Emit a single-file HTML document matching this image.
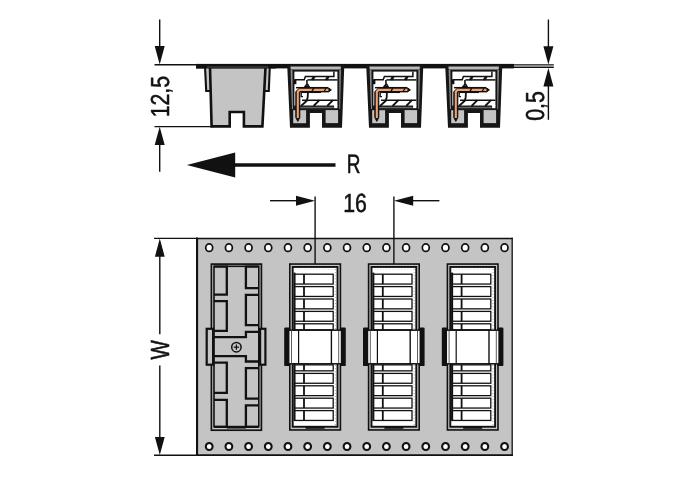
<!DOCTYPE html>
<html lang="en">
<head>
<meta charset="utf-8">
<title>Drawing</title>
<style>
html,body{margin:0;padding:0;background:#fff;}
body{width:697px;height:496px;overflow:hidden;}
svg{display:block;will-change:transform;}
text{text-rendering:geometricPrecision;filter:grayscale(1);}
</style>
</head>
<body>
<svg width="697" height="496" viewBox="0 0 697 496">
<rect x="0" y="0" width="697" height="496" fill="#fff"/>
<line x1="159.7" y1="19.5" x2="159.7" y2="50" stroke="#111" stroke-width="1.4" />
<polygon points="159.70,64.60 154.70,46.00 164.70,46.00" fill="#111" stroke="none" stroke-width="1" />
<line x1="154.5" y1="64.8" x2="200" y2="64.8" stroke="#111" stroke-width="1.4" />
<line x1="154.5" y1="126.6" x2="214" y2="126.6" stroke="#111" stroke-width="1.4" />
<polygon points="159.70,126.80 154.70,145.00 164.70,145.00" fill="#111" stroke="none" stroke-width="1" />
<line x1="159.7" y1="140" x2="159.7" y2="171.8" stroke="#111" stroke-width="1.4" />
<text transform="translate(168.6,96.6) rotate(-90) scale(0.82,1)" font-family="'Liberation Sans', sans-serif" font-size="26" text-anchor="middle" fill="#111" stroke="#111" stroke-width="0.55">12,5</text>
<line x1="548.4" y1="19.5" x2="548.4" y2="50" stroke="#111" stroke-width="1.4" />
<polygon points="548.40,64.40 543.40,46.20 553.40,46.20" fill="#111" stroke="none" stroke-width="1" />
<line x1="510" y1="64.8" x2="553.8" y2="64.8" stroke="#111" stroke-width="1.2" />
<line x1="510" y1="67.5" x2="553.8" y2="67.5" stroke="#111" stroke-width="1.2" />
<line x1="513" y1="66.15" x2="553.8" y2="66.15" stroke="#8f8f8f" stroke-width="1.5" />
<polygon points="548.40,68.00 543.40,86.60 553.40,86.60" fill="#111" stroke="none" stroke-width="1" />
<line x1="548.4" y1="80" x2="548.4" y2="119.8" stroke="#111" stroke-width="1.4" />
<text transform="translate(544.1,106.0) rotate(-90) scale(0.82,1)" font-family="'Liberation Sans', sans-serif" font-size="26" text-anchor="middle" fill="#111" stroke="#111" stroke-width="0.55">0,5</text>
<polygon points="186.80,165.00 235.20,152.40 235.20,177.60" fill="#111" stroke="none" stroke-width="1" />
<line x1="233" y1="165" x2="335.5" y2="165" stroke="#111" stroke-width="3.4" />
<text transform="translate(353.5,173.1) rotate(0) scale(0.72,1)" font-family="'Liberation Sans', sans-serif" font-size="26.4" text-anchor="middle" fill="#111" stroke="#111" stroke-width="0.55">R</text>
<line x1="270" y1="200.7" x2="300" y2="200.7" stroke="#111" stroke-width="1.4" />
<polygon points="315.00,200.70 296.00,195.70 296.00,205.70" fill="#111" stroke="none" stroke-width="1" />
<line x1="315.1" y1="196.4" x2="315.1" y2="264" stroke="#111" stroke-width="1.4" />
<line x1="393.9" y1="196.4" x2="393.9" y2="264" stroke="#111" stroke-width="1.4" />
<polygon points="394.00,200.70 413.20,195.70 413.20,205.70" fill="#111" stroke="none" stroke-width="1" />
<line x1="410" y1="200.7" x2="439.4" y2="200.7" stroke="#111" stroke-width="1.4" />
<text transform="translate(355.0,212.3) rotate(0) scale(0.81,1)" font-family="'Liberation Sans', sans-serif" font-size="26.3" text-anchor="middle" fill="#111" stroke="#111" stroke-width="0.55">16</text>
<line x1="154" y1="238.4" x2="198" y2="238.4" stroke="#111" stroke-width="1.4" />
<line x1="154" y1="455.2" x2="198" y2="455.2" stroke="#111" stroke-width="1.4" />
<polygon points="159.80,238.40 154.90,256.80 164.70,256.80" fill="#111" stroke="none" stroke-width="1" />
<polygon points="159.80,455.00 154.90,437.10 164.70,437.10" fill="#111" stroke="none" stroke-width="1" />
<line x1="159.8" y1="250" x2="159.8" y2="334.2" stroke="#111" stroke-width="1.4" />
<line x1="159.8" y1="365.6" x2="159.8" y2="440" stroke="#111" stroke-width="1.4" />
<text transform="translate(169,349.9) rotate(-90) scale(0.78,1)" font-family="'Liberation Sans', sans-serif" font-size="26.2" text-anchor="middle" fill="#111" stroke="#111" stroke-width="0.55">W</text>
<rect x="196.00" y="63.90" width="317.90" height="4.50" fill="#111" stroke="none" stroke-width="1" />
<polygon points="205.00,66.50 269.80,66.50 268.80,91.00 206.20,91.00" fill="#c4c4c4" stroke="#111" stroke-width="2.1" />
<polygon points="210.00,67.00 265.50,67.00 262.40,126.40 243.90,126.40 243.90,112.00 229.70,112.00 229.70,126.40 211.60,126.40" fill="#c4c4c4" stroke="#111" stroke-width="2.6" stroke-linejoin="miter"/>
<rect x="196.00" y="64.00" width="80.00" height="4.50" fill="#111" stroke="none" stroke-width="1" />
<line x1="207" y1="67.0" x2="268" y2="67.0" stroke="#8a8a8a" stroke-width="0.5" />
<g transform="translate(0.0,0)">
<polygon points="287.20,65.00 344.30,65.00 342.00,127.70 322.00,127.70 322.00,112.90 309.90,112.90 309.90,127.70 290.00,127.70" fill="#161616" stroke="none" stroke-width="1" stroke="#161616" stroke-width="0.6" stroke-linejoin="round"/>
<polygon points="290.50,66.40 340.90,66.40 340.70,69.60 290.70,69.60" fill="#b9b9b9" stroke="none" stroke-width="1" />
<polygon points="290.60,70.00 292.40,70.00 293.00,109.00 292.00,109.00" fill="#8c8c8c" stroke="none" stroke-width="1" />
<polygon points="339.30,70.00 341.00,70.00 340.10,109.00 339.30,109.00" fill="#8c8c8c" stroke="none" stroke-width="1" />
<rect x="294.40" y="71.60" width="43.00" height="34.20" fill="#fff" stroke="none" stroke-width="1" />
<rect x="293.20" y="110.20" width="12.90" height="13.00" fill="#c4c4c4" stroke="none" stroke-width="1" />
<rect x="325.60" y="110.10" width="12.50" height="13.00" fill="#c4c4c4" stroke="none" stroke-width="1" />
<rect x="294.40" y="105.60" width="39.70" height="3.80" fill="#262626" stroke="none" stroke-width="1" />
<line x1="300" y1="107.6" x2="333.5" y2="107.6" stroke="#777" stroke-width="0.9" />
<rect x="334.10" y="105.00" width="3.30" height="3.20" fill="#fff" stroke="none" stroke-width="1" />
<polyline points="333.90,71.60 333.90,76.40 305.40,76.40 304.20,79.80 294.40,79.80" fill="none" stroke="#111" stroke-width="1.5" />
<line x1="307.4" y1="79.9" x2="337.4" y2="79.9" stroke="#111" stroke-width="1.5" />
<line x1="313.8" y1="76.3" x2="311.6" y2="80" stroke="#111" stroke-width="1.5" />
<line x1="315.0" y1="76.3" x2="312.8" y2="80" stroke="#111" stroke-width="1.5" />
<line x1="327.8" y1="76.3" x2="325.6" y2="80" stroke="#111" stroke-width="1.5" />
<line x1="329.0" y1="76.3" x2="326.8" y2="80" stroke="#111" stroke-width="1.5" />
<polyline points="306.90,80.00 307.00,84.30 305.00,86.80 309.00,86.80 307.40,84.00" fill="none" stroke="#111" stroke-width="1.6" />
<rect x="293.80" y="79.60" width="2.60" height="4.60" fill="#111" stroke="none" stroke-width="1" />
<line x1="296" y1="87.7" x2="328" y2="87.7" stroke="#111" stroke-width="1.5" />
<path d="M331.4,89.9 L328.6,87.9 L299.8,87.9 L295.8,91.6 L295.8,117.5 L297.8,121.4 L299.8,117.5 L299.8,91.9 L328.6,91.9 Z" fill="#111" stroke="#111" stroke-width="1.0" stroke-linejoin="round"/>
<path d="M328.4,89.9 L299.7,89.9 L297.8,91.8 L297.8,118.0" fill="none" stroke="#f2a272" stroke-width="2.1" stroke-linecap="butt" stroke-linejoin="miter"/>
<line x1="313.8" y1="88.2" x2="311.6" y2="91.8" stroke="#111" stroke-width="1.3" />
<line x1="326.0" y1="88.2" x2="324.0" y2="91.8" stroke="#111" stroke-width="1.3" />
<line x1="301.2" y1="92.4" x2="321" y2="92.4" stroke="#111" stroke-width="1.3" />
<polyline points="301.20,92.20 301.20,96.60 303.00,96.60" fill="none" stroke="#111" stroke-width="1.3" />
<line x1="302" y1="100.2" x2="337.4" y2="100.2" stroke="#111" stroke-width="1.5" />
<polyline points="307.90,92.20 307.70,97.50 306.80,99.80" fill="none" stroke="#111" stroke-width="1.8" />
<line x1="301.0" y1="106" x2="307.6" y2="100.0" stroke="#111" stroke-width="1.8" />
<line x1="313.6" y1="106" x2="319.4" y2="100.2" stroke="#111" stroke-width="1.8" />
<line x1="327.2" y1="106" x2="333.0" y2="100.2" stroke="#111" stroke-width="1.8" />
</g>
<g transform="translate(79.0,0)">
<polygon points="287.20,65.00 344.30,65.00 342.00,127.70 322.00,127.70 322.00,112.90 309.90,112.90 309.90,127.70 290.00,127.70" fill="#161616" stroke="none" stroke-width="1" stroke="#161616" stroke-width="0.6" stroke-linejoin="round"/>
<polygon points="290.50,66.40 340.90,66.40 340.70,69.60 290.70,69.60" fill="#b9b9b9" stroke="none" stroke-width="1" />
<polygon points="290.60,70.00 292.40,70.00 293.00,109.00 292.00,109.00" fill="#8c8c8c" stroke="none" stroke-width="1" />
<polygon points="339.30,70.00 341.00,70.00 340.10,109.00 339.30,109.00" fill="#8c8c8c" stroke="none" stroke-width="1" />
<rect x="294.40" y="71.60" width="43.00" height="34.20" fill="#fff" stroke="none" stroke-width="1" />
<rect x="293.20" y="110.20" width="12.90" height="13.00" fill="#c4c4c4" stroke="none" stroke-width="1" />
<rect x="325.60" y="110.10" width="12.50" height="13.00" fill="#c4c4c4" stroke="none" stroke-width="1" />
<rect x="294.40" y="105.60" width="39.70" height="3.80" fill="#262626" stroke="none" stroke-width="1" />
<line x1="300" y1="107.6" x2="333.5" y2="107.6" stroke="#777" stroke-width="0.9" />
<rect x="334.10" y="105.00" width="3.30" height="3.20" fill="#fff" stroke="none" stroke-width="1" />
<polyline points="333.90,71.60 333.90,76.40 305.40,76.40 304.20,79.80 294.40,79.80" fill="none" stroke="#111" stroke-width="1.5" />
<line x1="307.4" y1="79.9" x2="337.4" y2="79.9" stroke="#111" stroke-width="1.5" />
<line x1="313.8" y1="76.3" x2="311.6" y2="80" stroke="#111" stroke-width="1.5" />
<line x1="315.0" y1="76.3" x2="312.8" y2="80" stroke="#111" stroke-width="1.5" />
<line x1="327.8" y1="76.3" x2="325.6" y2="80" stroke="#111" stroke-width="1.5" />
<line x1="329.0" y1="76.3" x2="326.8" y2="80" stroke="#111" stroke-width="1.5" />
<polyline points="306.90,80.00 307.00,84.30 305.00,86.80 309.00,86.80 307.40,84.00" fill="none" stroke="#111" stroke-width="1.6" />
<rect x="293.80" y="79.60" width="2.60" height="4.60" fill="#111" stroke="none" stroke-width="1" />
<line x1="296" y1="87.7" x2="328" y2="87.7" stroke="#111" stroke-width="1.5" />
<path d="M331.4,89.9 L328.6,87.9 L299.8,87.9 L295.8,91.6 L295.8,117.5 L297.8,121.4 L299.8,117.5 L299.8,91.9 L328.6,91.9 Z" fill="#111" stroke="#111" stroke-width="1.0" stroke-linejoin="round"/>
<path d="M328.4,89.9 L299.7,89.9 L297.8,91.8 L297.8,118.0" fill="none" stroke="#f2a272" stroke-width="2.1" stroke-linecap="butt" stroke-linejoin="miter"/>
<line x1="313.8" y1="88.2" x2="311.6" y2="91.8" stroke="#111" stroke-width="1.3" />
<line x1="326.0" y1="88.2" x2="324.0" y2="91.8" stroke="#111" stroke-width="1.3" />
<line x1="301.2" y1="92.4" x2="321" y2="92.4" stroke="#111" stroke-width="1.3" />
<polyline points="301.20,92.20 301.20,96.60 303.00,96.60" fill="none" stroke="#111" stroke-width="1.3" />
<line x1="302" y1="100.2" x2="337.4" y2="100.2" stroke="#111" stroke-width="1.5" />
<polyline points="307.90,92.20 307.70,97.50 306.80,99.80" fill="none" stroke="#111" stroke-width="1.8" />
<line x1="301.0" y1="106" x2="307.6" y2="100.0" stroke="#111" stroke-width="1.8" />
<line x1="313.6" y1="106" x2="319.4" y2="100.2" stroke="#111" stroke-width="1.8" />
<line x1="327.2" y1="106" x2="333.0" y2="100.2" stroke="#111" stroke-width="1.8" />
</g>
<g transform="translate(158.0,0)">
<polygon points="287.20,65.00 344.30,65.00 342.00,127.70 322.00,127.70 322.00,112.90 309.90,112.90 309.90,127.70 290.00,127.70" fill="#161616" stroke="none" stroke-width="1" stroke="#161616" stroke-width="0.6" stroke-linejoin="round"/>
<polygon points="290.50,66.40 340.90,66.40 340.70,69.60 290.70,69.60" fill="#b9b9b9" stroke="none" stroke-width="1" />
<polygon points="290.60,70.00 292.40,70.00 293.00,109.00 292.00,109.00" fill="#8c8c8c" stroke="none" stroke-width="1" />
<polygon points="339.30,70.00 341.00,70.00 340.10,109.00 339.30,109.00" fill="#8c8c8c" stroke="none" stroke-width="1" />
<rect x="294.40" y="71.60" width="43.00" height="34.20" fill="#fff" stroke="none" stroke-width="1" />
<rect x="293.20" y="110.20" width="12.90" height="13.00" fill="#c4c4c4" stroke="none" stroke-width="1" />
<rect x="325.60" y="110.10" width="12.50" height="13.00" fill="#c4c4c4" stroke="none" stroke-width="1" />
<rect x="294.40" y="105.60" width="39.70" height="3.80" fill="#262626" stroke="none" stroke-width="1" />
<line x1="300" y1="107.6" x2="333.5" y2="107.6" stroke="#777" stroke-width="0.9" />
<rect x="334.10" y="105.00" width="3.30" height="3.20" fill="#fff" stroke="none" stroke-width="1" />
<polyline points="333.90,71.60 333.90,76.40 305.40,76.40 304.20,79.80 294.40,79.80" fill="none" stroke="#111" stroke-width="1.5" />
<line x1="307.4" y1="79.9" x2="337.4" y2="79.9" stroke="#111" stroke-width="1.5" />
<line x1="313.8" y1="76.3" x2="311.6" y2="80" stroke="#111" stroke-width="1.5" />
<line x1="315.0" y1="76.3" x2="312.8" y2="80" stroke="#111" stroke-width="1.5" />
<line x1="327.8" y1="76.3" x2="325.6" y2="80" stroke="#111" stroke-width="1.5" />
<line x1="329.0" y1="76.3" x2="326.8" y2="80" stroke="#111" stroke-width="1.5" />
<polyline points="306.90,80.00 307.00,84.30 305.00,86.80 309.00,86.80 307.40,84.00" fill="none" stroke="#111" stroke-width="1.6" />
<rect x="293.80" y="79.60" width="2.60" height="4.60" fill="#111" stroke="none" stroke-width="1" />
<line x1="296" y1="87.7" x2="328" y2="87.7" stroke="#111" stroke-width="1.5" />
<path d="M331.4,89.9 L328.6,87.9 L299.8,87.9 L295.8,91.6 L295.8,117.5 L297.8,121.4 L299.8,117.5 L299.8,91.9 L328.6,91.9 Z" fill="#111" stroke="#111" stroke-width="1.0" stroke-linejoin="round"/>
<path d="M328.4,89.9 L299.7,89.9 L297.8,91.8 L297.8,118.0" fill="none" stroke="#f2a272" stroke-width="2.1" stroke-linecap="butt" stroke-linejoin="miter"/>
<line x1="313.8" y1="88.2" x2="311.6" y2="91.8" stroke="#111" stroke-width="1.3" />
<line x1="326.0" y1="88.2" x2="324.0" y2="91.8" stroke="#111" stroke-width="1.3" />
<line x1="301.2" y1="92.4" x2="321" y2="92.4" stroke="#111" stroke-width="1.3" />
<polyline points="301.20,92.20 301.20,96.60 303.00,96.60" fill="none" stroke="#111" stroke-width="1.3" />
<line x1="302" y1="100.2" x2="337.4" y2="100.2" stroke="#111" stroke-width="1.5" />
<polyline points="307.90,92.20 307.70,97.50 306.80,99.80" fill="none" stroke="#111" stroke-width="1.8" />
<line x1="301.0" y1="106" x2="307.6" y2="100.0" stroke="#111" stroke-width="1.8" />
<line x1="313.6" y1="106" x2="319.4" y2="100.2" stroke="#111" stroke-width="1.8" />
<line x1="327.2" y1="106" x2="333.0" y2="100.2" stroke="#111" stroke-width="1.8" />
</g>
<rect x="197.00" y="238.30" width="315.20" height="216.80" fill="#c4c4c4" stroke="none" stroke-width="1" />
<line x1="196.0" y1="238.45" x2="512.85" y2="238.45" stroke="#111" stroke-width="1.6" />
<line x1="196.0" y1="455.1" x2="512.85" y2="455.1" stroke="#111" stroke-width="1.6" />
<line x1="197.05" y1="237.65" x2="197.05" y2="455.9" stroke="#111" stroke-width="2.1" />
<line x1="512.2" y1="237.65" x2="512.2" y2="455.9" stroke="#111" stroke-width="1.3" />
<ellipse cx="209.20" cy="247.7" rx="3.45" ry="3.75" fill="#fff" stroke="#111" stroke-width="1.75"/>
<ellipse cx="209.20" cy="446.5" rx="3.4" ry="3.55" fill="#fff" stroke="#111" stroke-width="2.05"/>
<ellipse cx="228.89" cy="247.7" rx="3.45" ry="3.75" fill="#fff" stroke="#111" stroke-width="1.75"/>
<ellipse cx="228.89" cy="446.5" rx="3.4" ry="3.55" fill="#fff" stroke="#111" stroke-width="2.05"/>
<ellipse cx="248.58" cy="247.7" rx="3.45" ry="3.75" fill="#fff" stroke="#111" stroke-width="1.75"/>
<ellipse cx="248.58" cy="446.5" rx="3.4" ry="3.55" fill="#fff" stroke="#111" stroke-width="2.05"/>
<ellipse cx="268.27" cy="247.7" rx="3.45" ry="3.75" fill="#fff" stroke="#111" stroke-width="1.75"/>
<ellipse cx="268.27" cy="446.5" rx="3.4" ry="3.55" fill="#fff" stroke="#111" stroke-width="2.05"/>
<ellipse cx="287.96" cy="247.7" rx="3.45" ry="3.75" fill="#fff" stroke="#111" stroke-width="1.75"/>
<ellipse cx="287.96" cy="446.5" rx="3.4" ry="3.55" fill="#fff" stroke="#111" stroke-width="2.05"/>
<ellipse cx="307.65" cy="247.7" rx="3.45" ry="3.75" fill="#fff" stroke="#111" stroke-width="1.75"/>
<ellipse cx="307.65" cy="446.5" rx="3.4" ry="3.55" fill="#fff" stroke="#111" stroke-width="2.05"/>
<ellipse cx="327.34" cy="247.7" rx="3.45" ry="3.75" fill="#fff" stroke="#111" stroke-width="1.75"/>
<ellipse cx="327.34" cy="446.5" rx="3.4" ry="3.55" fill="#fff" stroke="#111" stroke-width="2.05"/>
<ellipse cx="347.03" cy="247.7" rx="3.45" ry="3.75" fill="#fff" stroke="#111" stroke-width="1.75"/>
<ellipse cx="347.03" cy="446.5" rx="3.4" ry="3.55" fill="#fff" stroke="#111" stroke-width="2.05"/>
<ellipse cx="366.72" cy="247.7" rx="3.45" ry="3.75" fill="#fff" stroke="#111" stroke-width="1.75"/>
<ellipse cx="366.72" cy="446.5" rx="3.4" ry="3.55" fill="#fff" stroke="#111" stroke-width="2.05"/>
<ellipse cx="386.41" cy="247.7" rx="3.45" ry="3.75" fill="#fff" stroke="#111" stroke-width="1.75"/>
<ellipse cx="386.41" cy="446.5" rx="3.4" ry="3.55" fill="#fff" stroke="#111" stroke-width="2.05"/>
<ellipse cx="406.10" cy="247.7" rx="3.45" ry="3.75" fill="#fff" stroke="#111" stroke-width="1.75"/>
<ellipse cx="406.10" cy="446.5" rx="3.4" ry="3.55" fill="#fff" stroke="#111" stroke-width="2.05"/>
<ellipse cx="425.79" cy="247.7" rx="3.45" ry="3.75" fill="#fff" stroke="#111" stroke-width="1.75"/>
<ellipse cx="425.79" cy="446.5" rx="3.4" ry="3.55" fill="#fff" stroke="#111" stroke-width="2.05"/>
<ellipse cx="445.48" cy="247.7" rx="3.45" ry="3.75" fill="#fff" stroke="#111" stroke-width="1.75"/>
<ellipse cx="445.48" cy="446.5" rx="3.4" ry="3.55" fill="#fff" stroke="#111" stroke-width="2.05"/>
<ellipse cx="465.17" cy="247.7" rx="3.45" ry="3.75" fill="#fff" stroke="#111" stroke-width="1.75"/>
<ellipse cx="465.17" cy="446.5" rx="3.4" ry="3.55" fill="#fff" stroke="#111" stroke-width="2.05"/>
<ellipse cx="484.86" cy="247.7" rx="3.45" ry="3.75" fill="#fff" stroke="#111" stroke-width="1.75"/>
<ellipse cx="484.86" cy="446.5" rx="3.4" ry="3.55" fill="#fff" stroke="#111" stroke-width="2.05"/>
<ellipse cx="504.55" cy="247.7" rx="3.45" ry="3.75" fill="#fff" stroke="#111" stroke-width="1.75"/>
<ellipse cx="504.55" cy="446.5" rx="3.4" ry="3.55" fill="#fff" stroke="#111" stroke-width="2.05"/>
<rect x="211.40" y="264.10" width="50.00" height="166.10" fill="#c8c8c8" stroke="#111" stroke-width="1.7" />
<rect x="214.00" y="266.30" width="44.80" height="160.30" fill="#c4c4c4" stroke="#111" stroke-width="1.6" />
<rect x="206.70" y="328.80" width="6.40" height="35.90" fill="#c4c4c4" stroke="#111" stroke-width="2.2" />
<rect x="260.10" y="328.80" width="5.30" height="35.90" fill="#c4c4c4" stroke="#111" stroke-width="2.2" />
<polyline points="213.90,266.60 226.80,266.60 226.80,294.60 213.90,294.60" fill="none" stroke="#111" stroke-width="2.3" />
<polyline points="213.90,301.20 226.80,301.20 226.80,330.90 213.90,330.90" fill="none" stroke="#111" stroke-width="2.3" />
<polyline points="213.90,362.70 226.80,362.70 226.80,392.80 213.90,392.80" fill="none" stroke="#111" stroke-width="2.3" />
<polyline points="213.90,399.80 226.80,399.80 226.80,426.90 213.90,426.90" fill="none" stroke="#111" stroke-width="2.3" />
<polyline points="258.80,266.60 245.90,266.60 245.90,288.20 258.80,288.20" fill="none" stroke="#111" stroke-width="2.3" />
<polyline points="258.80,294.80 245.90,294.80 245.90,325.20 258.80,325.20" fill="none" stroke="#111" stroke-width="2.3" />
<polyline points="258.80,368.20 245.90,368.20 245.90,398.60 258.80,398.60" fill="none" stroke="#111" stroke-width="2.3" />
<polyline points="258.80,405.40 245.90,405.40 245.90,426.90 258.80,426.90" fill="none" stroke="#111" stroke-width="2.3" />
<line x1="226.8" y1="427.5" x2="245.9" y2="427.5" stroke="#111" stroke-width="2.1" />
<polyline points="258.80,331.90 245.90,331.90 245.90,337.20 213.90,337.20" fill="none" stroke="#111" stroke-width="2.3" />
<polyline points="258.80,361.50 245.90,361.50 245.90,356.20 213.90,356.20" fill="none" stroke="#111" stroke-width="2.3" />
<circle cx="236.40" cy="347.2" r="4.7" fill="#c4c4c4" stroke="#111" stroke-width="1.5"/>
<line x1="233.8" y1="347.2" x2="239.0" y2="347.2" stroke="#111" stroke-width="1.2" />
<line x1="236.4" y1="344.6" x2="236.4" y2="349.8" stroke="#111" stroke-width="1.2" />
<rect x="289.80" y="264.05" width="50.60" height="165.90" fill="#c6c6c6" stroke="#111" stroke-width="1.6" />
<rect x="292.70" y="266.95" width="44.80" height="159.80" fill="#fff" stroke="#111" stroke-width="1.9" />
<rect x="293.50" y="272.60" width="2.00" height="148.40" fill="#111" stroke="none" stroke-width="1" />
<line x1="335.40000000000003" y1="269" x2="335.40000000000003" y2="425" stroke="#777" stroke-width="0.7" stroke-dasharray="1 2.1"/>
<line x1="295.1" y1="269.3" x2="335.1" y2="269.3" stroke="#d8d8d8" stroke-width="0.8" stroke-dasharray="1.5 1.5"/>
<rect x="294.90" y="274.20" width="38.30" height="9.85" fill="#fff" stroke="#111" stroke-width="1.3" />
<line x1="304.0" y1="274.2" x2="304.0" y2="284.05" stroke="#111" stroke-width="1.8" />
<rect x="294.90" y="286.60" width="38.30" height="9.85" fill="#fff" stroke="#111" stroke-width="1.3" />
<line x1="304.0" y1="286.59999999999997" x2="304.0" y2="296.45" stroke="#111" stroke-width="1.8" />
<rect x="294.90" y="299.00" width="38.30" height="9.85" fill="#fff" stroke="#111" stroke-width="1.3" />
<line x1="304.0" y1="299.0" x2="304.0" y2="308.85" stroke="#111" stroke-width="1.8" />
<rect x="294.90" y="311.40" width="38.30" height="9.85" fill="#fff" stroke="#111" stroke-width="1.3" />
<line x1="304.0" y1="311.4" x2="304.0" y2="321.25" stroke="#111" stroke-width="1.8" />
<rect x="294.90" y="373.40" width="38.30" height="9.85" fill="#fff" stroke="#111" stroke-width="1.3" />
<line x1="304.0" y1="373.4" x2="304.0" y2="383.25" stroke="#111" stroke-width="1.8" />
<rect x="294.90" y="385.80" width="38.30" height="9.85" fill="#fff" stroke="#111" stroke-width="1.3" />
<line x1="304.0" y1="385.8" x2="304.0" y2="395.65000000000003" stroke="#111" stroke-width="1.8" />
<rect x="294.90" y="398.20" width="38.30" height="9.85" fill="#fff" stroke="#111" stroke-width="1.3" />
<line x1="304.0" y1="398.2" x2="304.0" y2="408.05" stroke="#111" stroke-width="1.8" />
<rect x="294.90" y="410.60" width="38.30" height="9.85" fill="#fff" stroke="#111" stroke-width="1.3" />
<line x1="304.0" y1="410.6" x2="304.0" y2="420.45000000000005" stroke="#111" stroke-width="1.8" />
<rect x="294.90" y="323.80" width="38.30" height="6.00" fill="#fff" stroke="#111" stroke-width="1.3" />
<line x1="304.0" y1="323.8" x2="304.0" y2="329.8" stroke="#111" stroke-width="1.8" />
<rect x="294.90" y="364.85" width="38.30" height="6.00" fill="#fff" stroke="#111" stroke-width="1.3" />
<line x1="304.0" y1="364.85" x2="304.0" y2="370.85" stroke="#111" stroke-width="1.8" />
<line x1="305.6" y1="427.9" x2="324.6" y2="427.9" stroke="#111" stroke-width="1.8" />
<rect x="284.20" y="327.50" width="6.00" height="38.60" fill="#111" stroke="none" stroke-width="1" rx="1.2"/>
<rect x="339.90" y="327.50" width="5.90" height="38.60" fill="#111" stroke="none" stroke-width="1" rx="1.2"/>
<rect x="288.70" y="330.20" width="52.80" height="33.60" fill="#fff" stroke="#111" stroke-width="1.5" />
<line x1="291.5" y1="330" x2="291.5" y2="364" stroke="#333" stroke-width="0.8" />
<line x1="298.6" y1="330" x2="298.6" y2="364" stroke="#111" stroke-width="1.2" />
<line x1="331.40000000000003" y1="330" x2="331.40000000000003" y2="364" stroke="#111" stroke-width="1.4" />
<line x1="338.70000000000005" y1="330" x2="338.70000000000005" y2="364" stroke="#333" stroke-width="0.8" />
<rect x="368.60" y="264.05" width="50.60" height="165.90" fill="#c6c6c6" stroke="#111" stroke-width="1.6" />
<rect x="371.50" y="266.95" width="44.80" height="159.80" fill="#fff" stroke="#111" stroke-width="1.9" />
<rect x="372.30" y="272.60" width="2.00" height="148.40" fill="#111" stroke="none" stroke-width="1" />
<line x1="414.20000000000005" y1="269" x2="414.20000000000005" y2="425" stroke="#777" stroke-width="0.7" stroke-dasharray="1 2.1"/>
<line x1="373.90000000000003" y1="269.3" x2="413.90000000000003" y2="269.3" stroke="#d8d8d8" stroke-width="0.8" stroke-dasharray="1.5 1.5"/>
<rect x="373.70" y="274.20" width="38.30" height="9.85" fill="#fff" stroke="#111" stroke-width="1.3" />
<line x1="382.8" y1="274.2" x2="382.8" y2="284.05" stroke="#111" stroke-width="1.8" />
<rect x="373.70" y="286.60" width="38.30" height="9.85" fill="#fff" stroke="#111" stroke-width="1.3" />
<line x1="382.8" y1="286.59999999999997" x2="382.8" y2="296.45" stroke="#111" stroke-width="1.8" />
<rect x="373.70" y="299.00" width="38.30" height="9.85" fill="#fff" stroke="#111" stroke-width="1.3" />
<line x1="382.8" y1="299.0" x2="382.8" y2="308.85" stroke="#111" stroke-width="1.8" />
<rect x="373.70" y="311.40" width="38.30" height="9.85" fill="#fff" stroke="#111" stroke-width="1.3" />
<line x1="382.8" y1="311.4" x2="382.8" y2="321.25" stroke="#111" stroke-width="1.8" />
<rect x="373.70" y="373.40" width="38.30" height="9.85" fill="#fff" stroke="#111" stroke-width="1.3" />
<line x1="382.8" y1="373.4" x2="382.8" y2="383.25" stroke="#111" stroke-width="1.8" />
<rect x="373.70" y="385.80" width="38.30" height="9.85" fill="#fff" stroke="#111" stroke-width="1.3" />
<line x1="382.8" y1="385.8" x2="382.8" y2="395.65000000000003" stroke="#111" stroke-width="1.8" />
<rect x="373.70" y="398.20" width="38.30" height="9.85" fill="#fff" stroke="#111" stroke-width="1.3" />
<line x1="382.8" y1="398.2" x2="382.8" y2="408.05" stroke="#111" stroke-width="1.8" />
<rect x="373.70" y="410.60" width="38.30" height="9.85" fill="#fff" stroke="#111" stroke-width="1.3" />
<line x1="382.8" y1="410.6" x2="382.8" y2="420.45000000000005" stroke="#111" stroke-width="1.8" />
<rect x="373.70" y="323.80" width="38.30" height="6.00" fill="#fff" stroke="#111" stroke-width="1.3" />
<line x1="382.8" y1="323.8" x2="382.8" y2="329.8" stroke="#111" stroke-width="1.8" />
<rect x="373.70" y="364.85" width="38.30" height="6.00" fill="#fff" stroke="#111" stroke-width="1.3" />
<line x1="382.8" y1="364.85" x2="382.8" y2="370.85" stroke="#111" stroke-width="1.8" />
<line x1="384.40000000000003" y1="427.9" x2="403.40000000000003" y2="427.9" stroke="#111" stroke-width="1.8" />
<rect x="363.00" y="327.50" width="6.00" height="38.60" fill="#111" stroke="none" stroke-width="1" rx="1.2"/>
<rect x="418.70" y="327.50" width="5.90" height="38.60" fill="#111" stroke="none" stroke-width="1" rx="1.2"/>
<rect x="367.50" y="330.20" width="52.80" height="33.60" fill="#fff" stroke="#111" stroke-width="1.5" />
<line x1="370.3" y1="330" x2="370.3" y2="364" stroke="#333" stroke-width="0.8" />
<line x1="377.40000000000003" y1="330" x2="377.40000000000003" y2="364" stroke="#111" stroke-width="1.2" />
<line x1="410.20000000000005" y1="330" x2="410.20000000000005" y2="364" stroke="#111" stroke-width="1.4" />
<line x1="417.50000000000006" y1="330" x2="417.50000000000006" y2="364" stroke="#333" stroke-width="0.8" />
<rect x="447.40" y="264.05" width="50.60" height="165.90" fill="#c6c6c6" stroke="#111" stroke-width="1.6" />
<rect x="450.30" y="266.95" width="44.80" height="159.80" fill="#fff" stroke="#111" stroke-width="1.9" />
<rect x="451.10" y="272.60" width="2.00" height="148.40" fill="#111" stroke="none" stroke-width="1" />
<line x1="493.00000000000006" y1="269" x2="493.00000000000006" y2="425" stroke="#777" stroke-width="0.7" stroke-dasharray="1 2.1"/>
<line x1="452.70000000000005" y1="269.3" x2="492.70000000000005" y2="269.3" stroke="#d8d8d8" stroke-width="0.8" stroke-dasharray="1.5 1.5"/>
<rect x="452.50" y="274.20" width="38.30" height="9.85" fill="#fff" stroke="#111" stroke-width="1.3" />
<line x1="461.6" y1="274.2" x2="461.6" y2="284.05" stroke="#111" stroke-width="1.8" />
<rect x="452.50" y="286.60" width="38.30" height="9.85" fill="#fff" stroke="#111" stroke-width="1.3" />
<line x1="461.6" y1="286.59999999999997" x2="461.6" y2="296.45" stroke="#111" stroke-width="1.8" />
<rect x="452.50" y="299.00" width="38.30" height="9.85" fill="#fff" stroke="#111" stroke-width="1.3" />
<line x1="461.6" y1="299.0" x2="461.6" y2="308.85" stroke="#111" stroke-width="1.8" />
<rect x="452.50" y="311.40" width="38.30" height="9.85" fill="#fff" stroke="#111" stroke-width="1.3" />
<line x1="461.6" y1="311.4" x2="461.6" y2="321.25" stroke="#111" stroke-width="1.8" />
<rect x="452.50" y="373.40" width="38.30" height="9.85" fill="#fff" stroke="#111" stroke-width="1.3" />
<line x1="461.6" y1="373.4" x2="461.6" y2="383.25" stroke="#111" stroke-width="1.8" />
<rect x="452.50" y="385.80" width="38.30" height="9.85" fill="#fff" stroke="#111" stroke-width="1.3" />
<line x1="461.6" y1="385.8" x2="461.6" y2="395.65000000000003" stroke="#111" stroke-width="1.8" />
<rect x="452.50" y="398.20" width="38.30" height="9.85" fill="#fff" stroke="#111" stroke-width="1.3" />
<line x1="461.6" y1="398.2" x2="461.6" y2="408.05" stroke="#111" stroke-width="1.8" />
<rect x="452.50" y="410.60" width="38.30" height="9.85" fill="#fff" stroke="#111" stroke-width="1.3" />
<line x1="461.6" y1="410.6" x2="461.6" y2="420.45000000000005" stroke="#111" stroke-width="1.8" />
<rect x="452.50" y="323.80" width="38.30" height="6.00" fill="#fff" stroke="#111" stroke-width="1.3" />
<line x1="461.6" y1="323.8" x2="461.6" y2="329.8" stroke="#111" stroke-width="1.8" />
<rect x="452.50" y="364.85" width="38.30" height="6.00" fill="#fff" stroke="#111" stroke-width="1.3" />
<line x1="461.6" y1="364.85" x2="461.6" y2="370.85" stroke="#111" stroke-width="1.8" />
<line x1="463.20000000000005" y1="427.9" x2="482.20000000000005" y2="427.9" stroke="#111" stroke-width="1.8" />
<rect x="441.80" y="327.50" width="6.00" height="38.60" fill="#111" stroke="none" stroke-width="1" rx="1.2"/>
<rect x="497.50" y="327.50" width="5.90" height="38.60" fill="#111" stroke="none" stroke-width="1" rx="1.2"/>
<rect x="446.30" y="330.20" width="52.80" height="33.60" fill="#fff" stroke="#111" stroke-width="1.5" />
<line x1="449.1" y1="330" x2="449.1" y2="364" stroke="#333" stroke-width="0.8" />
<line x1="456.20000000000005" y1="330" x2="456.20000000000005" y2="364" stroke="#111" stroke-width="1.2" />
<line x1="489.00000000000006" y1="330" x2="489.00000000000006" y2="364" stroke="#111" stroke-width="1.4" />
<line x1="496.30000000000007" y1="330" x2="496.30000000000007" y2="364" stroke="#333" stroke-width="0.8" />
<line x1="315.1" y1="238" x2="315.1" y2="264" stroke="#111" stroke-width="1.4" />
<line x1="393.9" y1="238" x2="393.9" y2="264" stroke="#111" stroke-width="1.4" />
</svg>
</body>
</html>
